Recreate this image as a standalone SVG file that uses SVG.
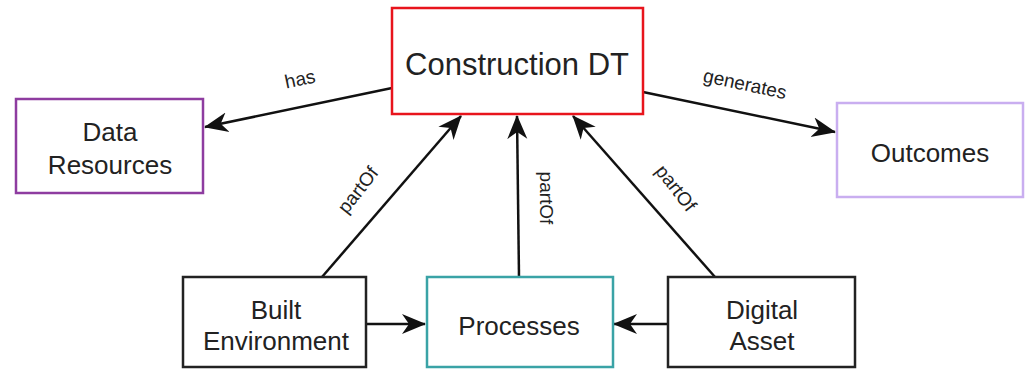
<svg xmlns="http://www.w3.org/2000/svg" width="1029" height="373" viewBox="0 0 1029 373">
<style>
.box{fill:#ffffff;stroke-width:2.5}
.t{font-family:"Liberation Sans",Arial,sans-serif;fill:#222;text-anchor:middle;dominant-baseline:central}
.n{font-size:26px}
.e{font-size:19px}
.c{fill:none;stroke:#111;stroke-width:2.5}
</style>
<defs>
<marker id="arr" markerUnits="userSpaceOnUse" markerWidth="25" markerHeight="22" viewBox="0 0 25 22" refX="23" refY="11" orient="auto">
<path d="M0,1 L24,11 L0,21 L7,11 Z" fill="#111"/>
</marker>
</defs>
<rect width="1029" height="373" fill="#ffffff"/>
<g id="connectors">
<line class="c" x1="392" y1="88" x2="205" y2="127" marker-end="url(#arr)"/>
<line class="c" x1="643" y1="92" x2="835" y2="132" marker-end="url(#arr)"/>
<line class="c" x1="322" y1="277" x2="461" y2="116" marker-end="url(#arr)"/>
<line class="c" x1="519" y1="277" x2="517" y2="116" marker-end="url(#arr)"/>
<line class="c" x1="715" y1="277" x2="573" y2="116" marker-end="url(#arr)"/>
<line class="c" x1="366" y1="324" x2="425" y2="324" marker-end="url(#arr)"/>
<line class="c" x1="668" y1="324" x2="614" y2="324" marker-end="url(#arr)"/>
<text class="t e" transform="translate(300,79) rotate(-12)">has</text>
<text class="t e" transform="translate(745,84) rotate(12)">generates</text>
<text class="t e" transform="translate(358,190) rotate(-52)">partOf</text>
<text class="t e" transform="translate(546,198) rotate(90)">partOf</text>
<text class="t e" transform="translate(676,188) rotate(52)">partOf</text>
</g>
<g id="construction-dt">
<rect class="box" x="392" y="8" width="251" height="106" stroke="#e8141c" stroke-width="3.5"/>
<text class="t" x="517" y="64" font-size="31">Construction DT</text>
</g>
<g id="data-resources">
<rect class="box" x="16" y="99" width="187" height="94" stroke="#8e3ca0"/>
<text class="t n" x="110" y="132">Data</text>
<text class="t n" x="110" y="165">Resources</text>
</g>
<g id="outcomes">
<rect class="box" x="837" y="103" width="186" height="94" stroke="#c9aef0"/>
<text class="t n" x="930" y="153">Outcomes</text>
</g>
<g id="built-environment">
<rect class="box" x="183" y="277" width="183" height="90" stroke="#222"/>
<text class="t n" x="276" y="310">Built</text>
<text class="t n" x="276" y="341">Environment</text>
</g>
<g id="processes">
<rect class="box" x="427" y="277" width="186" height="90" stroke="#3aa3a6"/>
<text class="t n" x="519" y="326">Processes</text>
</g>
<g id="digital-asset">
<rect class="box" x="668" y="277" width="187" height="90" stroke="#222"/>
<text class="t n" x="762" y="310">Digital</text>
<text class="t n" x="762" y="341">Asset</text>
</g>
</svg>
